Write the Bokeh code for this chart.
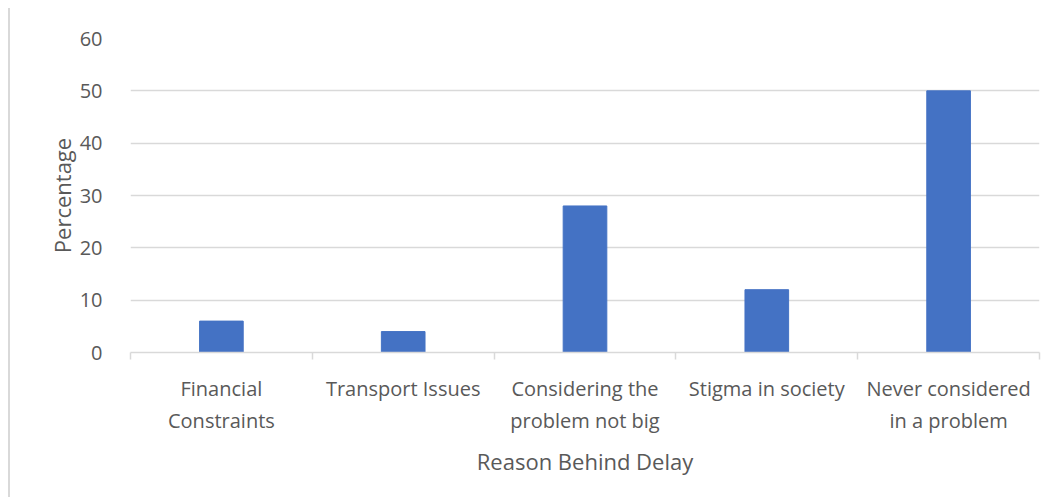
from bokeh.plotting import figure
from bokeh.models import Range1d, FixedTicker
from bokeh.embed import file_html
from bokeh.resources import INLINE

categories = ["Financial\nConstraints", "Transport Issues", "Considering the\nproblem not big",
              "Stigma in society", "Never considered\nin a problem"]
values = [6, 4, 28, 12, 50]
y_ticks = [0, 10, 20, 30, 40, 50, 60]

FONT = "Open Sans"
TXT = "#595959"
GRID = "#d9d9d9"

xs = [i + 0.5 for i in range(len(categories))]

p = figure(width=1046, height=489, output_backend="svg", toolbar_location=None,
           x_range=Range1d(0, len(categories)), y_range=Range1d(0, 60),
           min_border_left=120, min_border_right=17, min_border_top=30, min_border_bottom=145)
p.margin = (8, 0, 0, 8)
p.outline_line_color = None
p.background_fill_color = "white"
p.border_fill_color = "white"

p.vbar(x=xs, top=values, width=0.24, color="#4472C4")

p.xaxis.ticker = FixedTicker(ticks=xs, minor_ticks=list(range(len(categories) + 1)))
p.xaxis.major_label_overrides = {x: c for x, c in zip(xs, categories)}
p.xaxis.major_tick_line_color = None
p.xaxis.minor_tick_out = 7
p.xaxis.minor_tick_in = 0
p.xaxis.minor_tick_line_color = GRID
p.xaxis.minor_tick_line_width = 1.5
p.xaxis.axis_line_color = GRID
p.xaxis.axis_line_width = 1.5
p.xaxis.major_label_text_font = FONT
p.xaxis.major_label_text_font_size = "20px"
p.xaxis.major_label_text_color = TXT
p.xaxis.major_label_standoff = 15
p.xaxis.axis_label = "Reason Behind Delay"
p.xaxis.axis_label_text_font = FONT
p.xaxis.axis_label_text_font_size = "22px"
p.xaxis.axis_label_text_font_style = "normal"
p.xaxis.axis_label_text_color = TXT
p.xaxis.axis_label_standoff = 9

p.yaxis.ticker = FixedTicker(ticks=y_ticks)
p.yaxis.axis_line_color = None
p.yaxis.major_tick_line_color = None
p.yaxis.minor_tick_line_color = None
p.yaxis.major_label_text_font = FONT
p.yaxis.major_label_text_font_size = "20px"
p.yaxis.major_label_text_color = TXT
p.yaxis.major_label_standoff = 22
p.yaxis.axis_label = "Percentage"
p.yaxis.axis_label_text_font = FONT
p.yaxis.axis_label_text_font_size = "22px"
p.yaxis.axis_label_text_font_style = "normal"
p.yaxis.axis_label_text_color = TXT
p.yaxis.axis_label_standoff = 0

p.xgrid.grid_line_color = None
p.ygrid.grid_line_color = GRID
p.ygrid.grid_line_width = 1.5

p.styles = {"border-left": "2px solid #d9d9d9"}

open("out.html", "w").write(file_html(p, INLINE))
